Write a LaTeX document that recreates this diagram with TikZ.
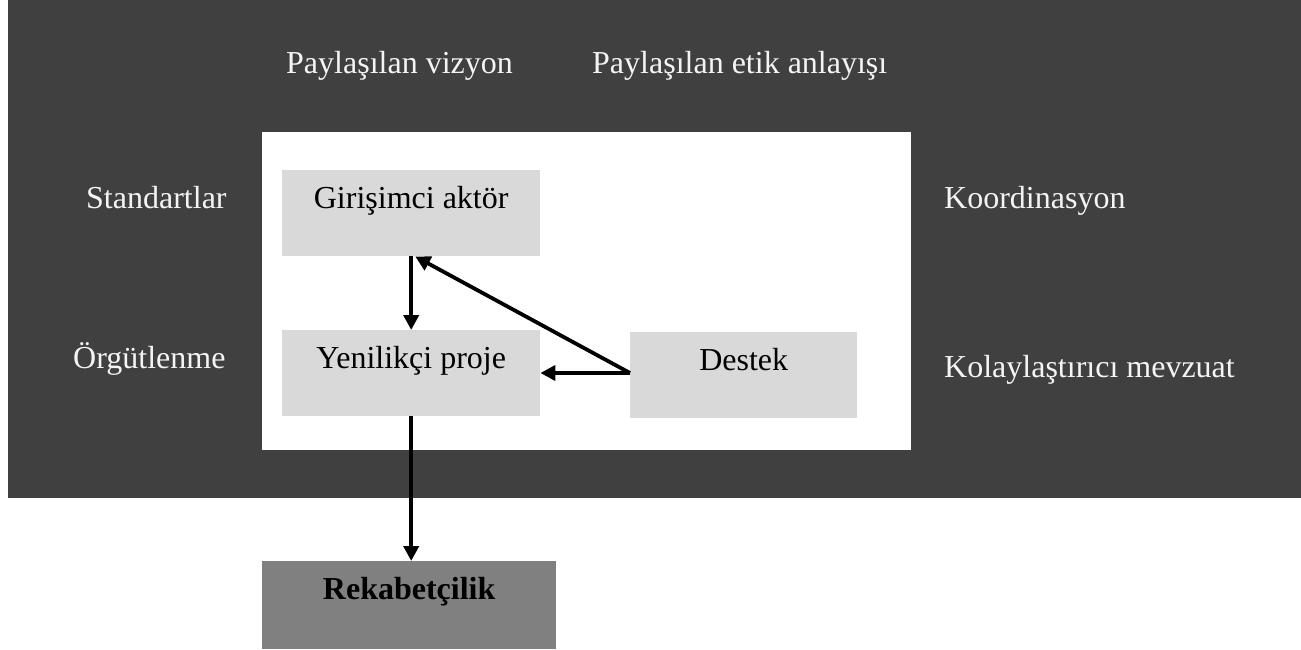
\documentclass[tikz,border=0pt]{standalone}
\usepackage{fontspec}
\setmainfont{Liberation Serif}
\usetikzlibrary{arrows.meta,calc}
\definecolor{frame}{HTML}{404040}
\definecolor{boxgray}{HTML}{D9D9D9}
\definecolor{outgray}{HTML}{808080}
\definecolor{lighttext}{HTML}{F4F4F4}
\begin{document}
\begin{tikzpicture}[x=1pt,y=-1pt,
  font=\fontsize{32}{38}\selectfont,
  box/.style={fill=boxgray, inner sep=0pt, anchor=north west,
    text height=38pt, text depth=48pt, align=center},
  outer/.style={text=lighttext, inner sep=0pt, anchor=base west},
  link/.style={line width=3.8pt, -{Triangle[length=15pt,width=15pt]}}]
\useasboundingbox (0,0) rectangle (1301,649);
% framing conditions and the inner field
\fill[frame] (8,0) rectangle (1301,498);
\fill[white] (262,132) rectangle (911,450);
% surrounding factors
\node[outer] (vis) at (286,73) {Paylaşılan vizyon};
\node[outer] (eth) at (592,73) {Paylaşılan etik anlayışı};
\node[outer] (std) at (86,208) {Standartlar};
\node[outer] (org) at (73,368) {Örgütlenme};
\node[outer] (koo) at (944,208) {Koordinasyon};
\node[outer] (law) at (944,377) {Kolaylaştırıcı mevzuat};
% core actors
\node[box, minimum width=258pt] (act) at (282,170) {Girişimci aktör};
\node[box, minimum width=258pt] (proj) at (282,330) {Yenilikçi proje};
\node[box, minimum width=227pt] (sup) at (630,332) {Destek};
\node[box, fill=outgray, text height=38pt, text depth=50pt,
  minimum width=294pt, font=\fontsize{32}{38}\selectfont\bfseries] (comp) at (262,561) {Rekabetçilik};
% connectors
\coordinate (supw) at (630,373);
\coordinate (acttip) at ($(act.south)+(4,0)$);
\draw[link] (act.south) -- (proj.north);
\draw[link] (supw) -- (proj.east |- supw);
\draw[link] (supw) -- (acttip);
\draw[link] (proj.south) -- (proj.south |- comp.north);
\end{tikzpicture}
\end{document}
